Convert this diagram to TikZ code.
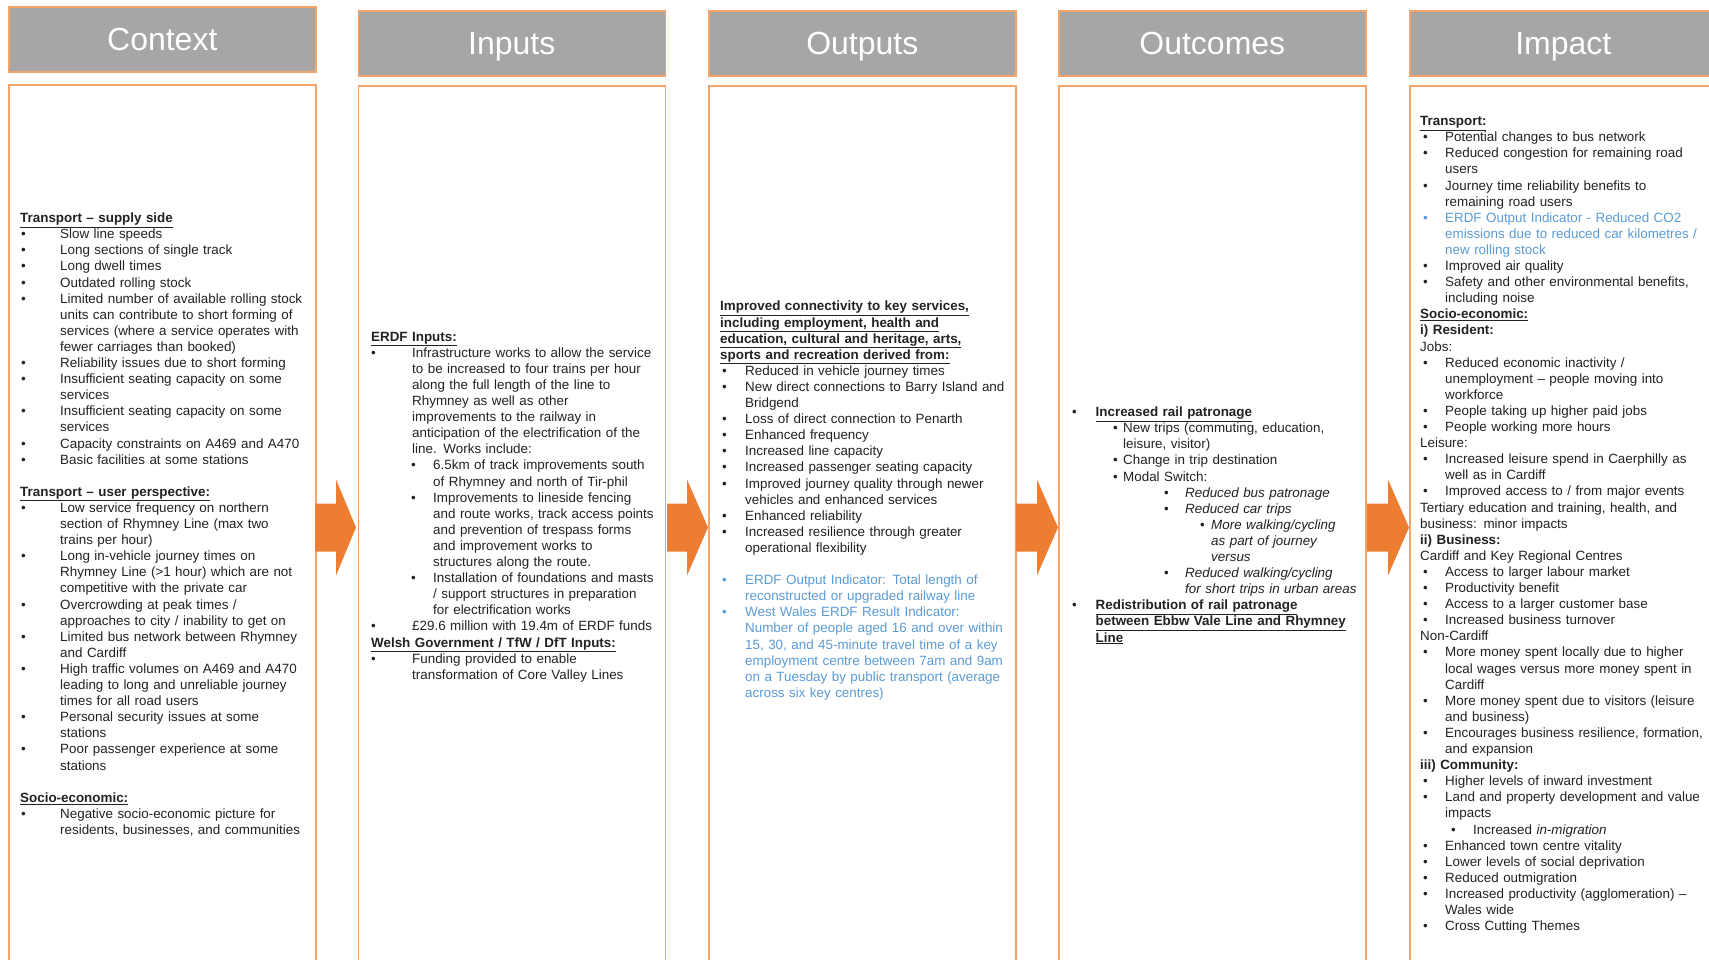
\documentclass[tikz,border=0pt]{standalone}
\usepackage{fontspec}
\setmainfont{Liberation Sans}
\definecolor{hdrgray}{HTML}{A6A6A6}
\definecolor{bord}{HTML}{F4A46A}
\definecolor{arr}{HTML}{ED7D31}
\definecolor{txt}{HTML}{222222}
\definecolor{blu}{HTML}{5B9BD5}
\newcommand\mybul[3]{\hspace*{#1pt}\makebox[0pt][l]{•}\hspace*{\dimexpr#2pt-#1pt\relax}#3}
\newcommand\mycon[2]{\hspace*{#1pt}#2}
\newcommand\hd[1]{\underline{\textbf{#1}}}
\newcommand\blu[1]{{\color{blu}#1}}
\newcommand\bodyf{\fontsize{13.4}{16.1}\selectfont\color{txt}\parindent=0pt}
\newcommand\blockarrow[3]{\fill[arr] (#1,503.5) -- (#2,503.5) -- (#2,479.5) -- (#3,527.5) -- (#2,575.5) -- (#2,551.5) -- (#1,551.5) -- cycle;}
\tikzset{
  hdr/.style={draw=bord, line width=1.6pt, fill=hdrgray, text=white, font=\fontsize{32}{38}\selectfont, text height=24pt, text depth=2pt, minimum width=307pt, minimum height=65pt, anchor=north west, inner sep=0pt},
  bodybox/.style={draw=bord, line width=1.6pt, fill=white, minimum width=307pt, minimum height=900pt, anchor=north west, inner sep=0pt},
  coltext/.style={anchor=north west, inner sep=0pt, text width=330pt, align=left, font=\bodyf}
}
\begin{document}
\begin{tikzpicture}[x=1pt,y=-1pt]
\clip (0,0) rectangle (1709,959);
\fill[white] (0,0) rectangle (1709,959);
% headers
\node[hdr] (hctx) at (8,6) {Context};
\node[hdr] (hinp) at (357.5,10) {Inputs};
\node[hdr] (hout) at (708,10) {Outputs};
\node[hdr] (hoc) at (1058,10) {Outcomes};
\node[hdr] (himp) at (1409,10) {Impact};
% bodies
\node[bodybox] (bctx) at (8,84) {};
\node[bodybox] (binp) at (357.5,85) {};
\node[bodybox] (bout) at (708,85) {};
\node[bodybox] (boc) at (1058,85) {};
\node[bodybox] (bimp) at (1409,85) {};
% arrows
\blockarrow{315}{336}{356}
\blockarrow{667}{687}{708}
\blockarrow{1016}{1037}{1058}
\blockarrow{1367}{1388}{1409}
% Context text
\node[coltext] (tctx) at (20,211.2) {\strut\hd{Transport – supply side}\\
\mybul{1}{40}{Slow line speeds}\\
\mybul{1}{40}{Long sections of single track}\\
\mybul{1}{40}{Long dwell times}\\
\mybul{1}{40}{Outdated rolling stock}\\
\mybul{1}{40}{Limited number of available rolling stock}\\
\mycon{40}{units can contribute to short forming of}\\
\mycon{40}{services (where a service operates with}\\
\mycon{40}{fewer carriages than booked)}\\
\mybul{1}{40}{Reliability issues due to short forming}\\
\mybul{1}{40}{Insufficient seating capacity on some}\\
\mycon{40}{services}\\
\mybul{1}{40}{Insufficient seating capacity on some}\\
\mycon{40}{services}\\
\mybul{1}{40}{Capacity constraints on A469 and A470}\\
\mybul{1}{40}{Basic facilities at some stations}\\
\mbox{}\\
\hd{Transport – user perspective:}\\
\mybul{1}{40}{Low service frequency on northern}\\
\mycon{40}{section of Rhymney Line (max two}\\
\mycon{40}{trains per hour)}\\
\mybul{1}{40}{Long in-vehicle journey times on}\\
\mycon{40}{Rhymney Line (>1 hour) which are not}\\
\mycon{40}{competitive with the private car}\\
\mybul{1}{40}{Overcrowding at peak times /}\\
\mycon{40}{approaches to city / inability to get on}\\
\mybul{1}{40}{Limited bus network between Rhymney}\\
\mycon{40}{and Cardiff}\\
\mybul{1}{40}{High traffic volumes on A469 and A470}\\
\mycon{40}{leading to long and unreliable journey}\\
\mycon{40}{times for all road users}\\
\mybul{1}{40}{Personal security issues at some}\\
\mycon{40}{stations}\\
\mybul{1}{40}{Poor passenger experience at some}\\
\mycon{40}{stations}\\
\mbox{}\\
\hd{Socio-economic:}\\
\mybul{1}{40}{Negative socio-economic picture for}\\
\mycon{40}{residents, businesses, and communities}};
% Inputs text
\node[coltext] (tinp) at (371,329.7) {\strut\hd{ERDF Inputs:}\\
\mybul{0}{41}{Infrastructure works to allow the service}\\
\mycon{41}{to be increased to four trains per hour}\\
\mycon{41}{along the full length of the line to}\\
\mycon{41}{Rhymney as well as other}\\
\mycon{41}{improvements to the railway in}\\
\mycon{41}{anticipation of the electrification of the}\\
\mycon{41}{line. Works include:}\\
\mybul{40}{62}{6.5km of track improvements south}\\
\mycon{62}{of Rhymney and north of Tir-phil}\\
\mybul{40}{62}{Improvements to lineside fencing}\\
\mycon{62}{and route works, track access points}\\
\mycon{62}{and prevention of trespass forms}\\
\mycon{62}{and improvement works to}\\
\mycon{62}{structures along the route.}\\
\mybul{40}{62}{Installation of foundations and masts}\\
\mycon{62}{/ support structures in preparation}\\
\mycon{62}{for electrification works}\\
\mybul{0}{41}{£29.6 million with 19.4m of ERDF funds}\\
\hd{Welsh Government / TfW / DfT Inputs:}\\
\mybul{0}{41}{Funding provided to enable}\\
\mycon{41}{transformation of Core Valley Lines}};
% Outputs text
\node[coltext] (tout) at (720,299.5) {\strut\hd{Improved connectivity to key services,}\\
\hd{including employment, health and}\\
\hd{education, cultural and heritage, arts,}\\
\hd{sports and recreation derived from:}\\
\mybul{2}{25}{Reduced in vehicle journey times}\\
\mybul{2}{25}{New direct connections to Barry Island and}\\
\mycon{25}{Bridgend}\\
\mybul{2}{25}{Loss of direct connection to Penarth}\\
\mybul{2}{25}{Enhanced frequency}\\
\mybul{2}{25}{Increased line capacity}\\
\mybul{2}{25}{Increased passenger seating capacity}\\
\mybul{2}{25}{Improved journey quality through newer}\\
\mycon{25}{vehicles and enhanced services}\\
\mybul{2}{25}{Enhanced reliability}\\
\mybul{2}{25}{Increased resilience through greater}\\
\mycon{25}{operational flexibility}\\
\mbox{}\\
\blu{\mybul{2}{25}{ERDF Output Indicator: Total length of}}\\
\blu{\mycon{25}{reconstructed or upgraded railway line}}\\
\blu{\mybul{2}{25}{West Wales ERDF Result Indicator:}}\\
\blu{\mycon{25}{Number of people aged 16 and over within}}\\
\blu{\mycon{25}{15, 30, and 45-minute travel time of a key}}\\
\blu{\mycon{25}{employment centre between 7am and 9am}}\\
\blu{\mycon{25}{on a Tuesday by public transport (average}}\\
\blu{\mycon{25}{across six key centres)}}};
% Outcomes text
\node[coltext] (toc) at (1072,405.2) {\strut\mybul{0}{23.5}{\hd{Increased rail patronage}}\\
\mybul{41}{51}{New trips (commuting, education,}\\
\mycon{51}{leisure, visitor)}\\
\mybul{41}{51}{Change in trip destination}\\
\mybul{41}{51}{Modal Switch:}\\
\mybul{92}{113}{\textit{Reduced bus patronage}}\\
\mybul{92}{113}{\textit{Reduced car trips}}\\
\mybul{128}{139}{\textit{More walking/cycling}}\\
\mycon{139}{\textit{as part of journey}}\\
\mycon{139}{\textit{versus}}\\
\mybul{92}{113}{\textit{Reduced walking/cycling}}\\
\mycon{113}{\textit{for short trips in urban areas}}\\
\mybul{0}{23.5}{\hd{Redistribution of rail patronage}}\\
\mycon{23.5}{\hd{between Ebbw Vale Line and Rhymney}}\\
\mycon{23.5}{\hd{Line}}};
% Impact text
\node[coltext] (timp) at (1420,114.2) {\strut\hd{Transport:}\\
\mybul{3}{25}{Potential changes to bus network}\\
\mybul{3}{25}{Reduced congestion for remaining road}\\
\mycon{25}{users}\\
\mybul{3}{25}{Journey time reliability benefits to}\\
\mycon{25}{remaining road users}\\
\blu{\mybul{3}{25}{ERDF Output Indicator - Reduced CO2}}\\
\blu{\mycon{25}{emissions due to reduced car kilometres /}}\\
\blu{\mycon{25}{new rolling stock}}\\
\mybul{3}{25}{Improved air quality}\\
\mybul{3}{25}{Safety and other environmental benefits,}\\
\mycon{25}{including noise}\\
\hd{Socio-economic:}\\
\textbf{i) Resident:}\\
Jobs:\\
\mybul{3}{25}{Reduced economic inactivity /}\\
\mycon{25}{unemployment – people moving into}\\
\mycon{25}{workforce}\\
\mybul{3}{25}{People taking up higher paid jobs}\\
\mybul{3}{25}{People working more hours}\\
Leisure:\\
\mybul{3}{25}{Increased leisure spend in Caerphilly as}\\
\mycon{25}{well as in Cardiff}\\
\mybul{3}{25}{Improved access to / from major events}\\
Tertiary education and training, health, and\\
business: minor impacts\\
\textbf{ii) Business:}\\
Cardiff and Key Regional Centres\\
\mybul{3}{25}{Access to larger labour market}\\
\mybul{3}{25}{Productivity benefit}\\
\mybul{3}{25}{Access to a larger customer base}\\
\mybul{3}{25}{Increased business turnover}\\
Non-Cardiff\\
\mybul{3}{25}{More money spent locally due to higher}\\
\mycon{25}{local wages versus more money spent in}\\
\mycon{25}{Cardiff}\\
\mybul{3}{25}{More money spent due to visitors (leisure}\\
\mycon{25}{and business)}\\
\mybul{3}{25}{Encourages business resilience, formation,}\\
\mycon{25}{and expansion}\\
\textbf{iii) Community:}\\
\mybul{3}{25}{Higher levels of inward investment}\\
\mybul{3}{25}{Land and property development and value}\\
\mycon{25}{impacts}\\
\mybul{31}{53}{Increased \textit{in-migration}}\\
\mybul{3}{25}{Enhanced town centre vitality}\\
\mybul{3}{25}{Lower levels of social deprivation}\\
\mybul{3}{25}{Reduced outmigration}\\
\mybul{3}{25}{Increased productivity (agglomeration) –}\\
\mycon{25}{Wales wide}\\
\mybul{3}{25}{Cross Cutting Themes}};
\end{tikzpicture}
\end{document}
